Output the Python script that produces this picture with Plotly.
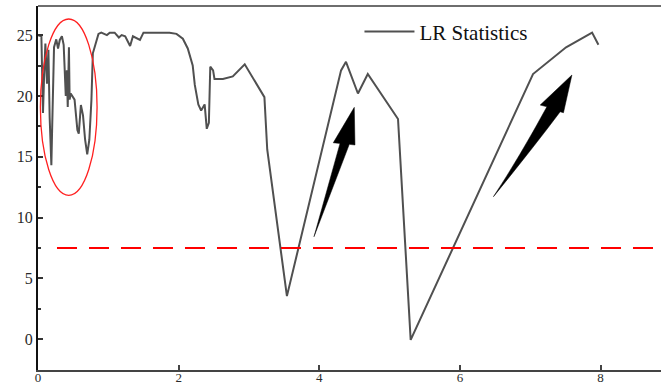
import plotly.graph_objects as go

# LR statistic series
x_vals = [0.0, 0.048, 0.057, 0.071, 0.085, 0.105, 0.128, 0.148, 0.166, 0.19, 0.20, 0.228, 0.26, 0.285,
          0.31, 0.34, 0.365, 0.38, 0.395, 0.41, 0.423, 0.44, 0.45, 0.465, 0.49, 0.52, 0.56, 0.58,
          0.61, 0.64, 0.67, 0.70, 0.73, 0.76, 0.78, 0.81, 0.86, 0.90, 0.98, 1.02, 1.09, 1.15, 1.19,
          1.24, 1.31, 1.35, 1.45, 1.50, 1.87, 1.97, 2.06, 2.13, 2.20, 2.23, 2.28, 2.32, 2.37, 2.40,
          2.43, 2.45, 2.49, 2.51, 2.63, 2.77, 2.94, 3.22, 3.26, 3.54, 4.31, 4.38, 4.55, 4.69, 5.12,
          5.30, 7.04, 7.51, 7.88, 7.97]
y_vals = [25.0, 24.9, 22.4, 18.6, 21.3, 24.3, 21.0, 23.8, 18.2, 14.3, 17.0, 24.0, 24.65, 23.9,
          24.6, 24.9, 24.2, 21.6, 20.0, 22.1, 19.1, 24.0, 19.7, 20.2, 20.0, 19.7, 17.2, 16.9,
          19.25, 18.4, 16.4, 15.2, 16.4, 19.7, 23.5, 24.1, 25.1, 25.2, 25.0, 25.2, 25.2, 24.8, 25.0,
          24.9, 24.1, 24.9, 24.6, 25.2, 25.2, 25.1, 24.7, 23.9, 22.5, 20.9, 19.3, 18.8, 19.3, 17.3,
          17.8, 22.4, 22.1, 21.4, 21.4, 21.6, 22.6, 19.9, 15.6, 3.55, 22.1, 22.8, 20.2, 21.8, 18.1,
          -0.05, 21.8, 24.0, 25.2, 24.2]
critical_value = 7.5
x_ticks = [0, 2, 4, 6, 8]
y_ticks = [0, 5, 10, 15, 20, 25]

X_RANGE = [0, 8.86]
Y_RANGE = [-2.52, 27.39]

fig = go.Figure()
fig.add_trace(go.Scatter(x=x_vals, y=y_vals, mode="lines", name="LR Statistics",
                         line=dict(color="#505050", width=2)))

# critical value dashed line
fig.add_trace(go.Scatter(x=[0.27, X_RANGE[1]], y=[critical_value, critical_value], mode="lines",
                         showlegend=False, line=dict(color="#ff0000", width=2, dash="20px,12px"),
                         hoverinfo="skip"))

# red ellipse around early noisy region
fig.add_shape(type="circle", xref="x", yref="y", x0=0.034, x1=0.84, y0=11.83, y1=26.32,
              line=dict(color="#ff2020", width=1.3))

# black arrows
arrow1 = "M 3.925 8.43 L 4.427 16.02 L 4.508 15.97 L 4.498 19.06 L 4.199 16.15 L 4.295 16.10 Z"
arrow2 = "M 6.477 11.72 Q 7.05 15.8 7.426 18.70 L 7.473 18.62 L 7.593 21.72 L 7.142 19.25 L 7.237 19.11 Q 6.85 15.0 6.477 11.72 Z"
for p in (arrow1, arrow2):
    fig.add_shape(type="path", xref="x", yref="y", path=p, fillcolor="black",
                  line=dict(color="black", width=0.5))

# top border
fig.add_shape(type="line", xref="paper", yref="paper", x0=0, x1=1, y0=1, y1=1,
              line=dict(color="#6e6e6e", width=2))

font_family = "Liberation Serif, Times New Roman, serif"
fig.update_layout(
    width=661, height=387,
    margin=dict(l=38, r=0, t=6, b=17, autoexpand=False),
    paper_bgcolor="white", plot_bgcolor="white",
    font=dict(family=font_family, size=16, color="#2a2a2a"),
    showlegend=True,
    legend=dict(x=0.516, y=0.985, xanchor="left", yanchor="top", bgcolor="rgba(0,0,0,0)",
                font=dict(family=font_family, size=21, color="#111111"), itemwidth=50),
    xaxis=dict(range=X_RANGE, tickvals=x_ticks, showgrid=False, zeroline=False, automargin=False,
               showline=True, linecolor="#444444", linewidth=2, ticks="inside", ticklen=5,
               tickcolor="#444444", tickwidth=1.5, tickfont=dict(size=13),
               ticklabelstandoff=-6),
    yaxis=dict(range=Y_RANGE, tickvals=y_ticks, showgrid=False, zeroline=False, automargin=False,
               showline=True, linecolor="#111111", linewidth=2, ticks="inside", ticklen=5,
               tickcolor="#333333", tickwidth=1.5,
               minor=dict(tickvals=[2.5, 7.5, 12.5, 17.5, 22.5], ticks="inside", ticklen=3,
                          tickcolor="#333333")),
)

fig.write_html("out.html", config={"displayModeBar": False},
               post_script="document.body.style.margin='0';document.body.style.overflow='hidden';")
